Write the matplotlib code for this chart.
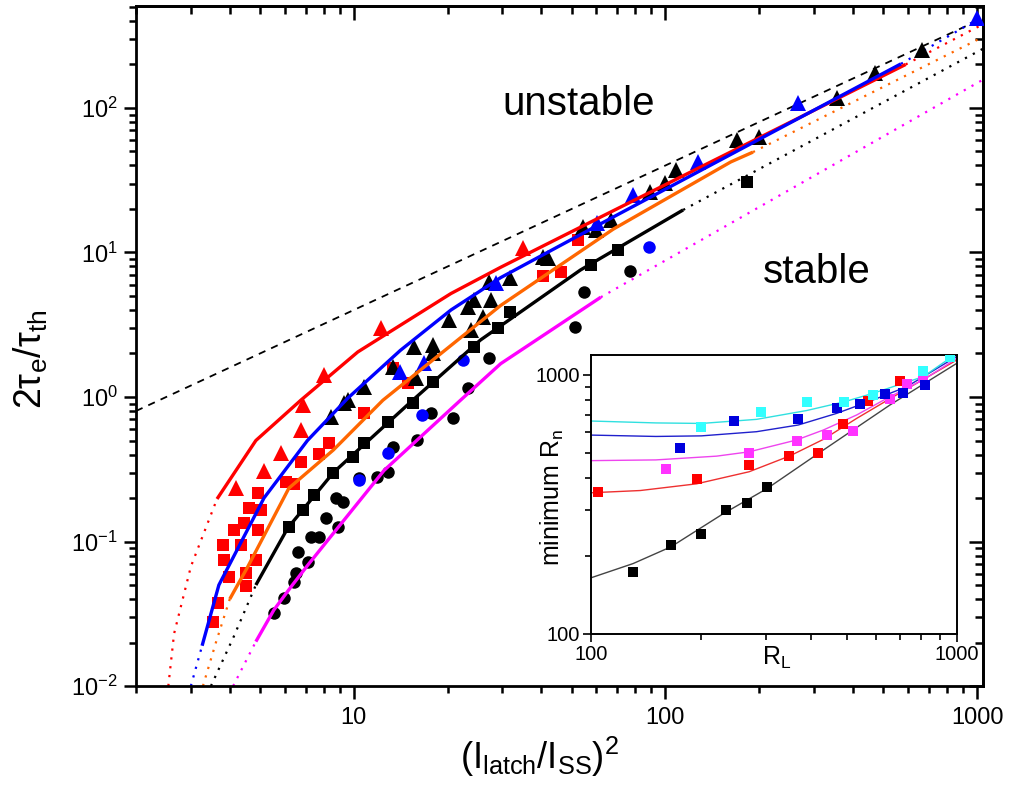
import matplotlib
matplotlib.use('Agg')
import matplotlib.pyplot as plt
import matplotlib.ticker as ticker

plt.rcParams['font.family'] = ['Liberation Sans', 'DejaVu Sans']
plt.rcParams['mathtext.fontset'] = 'custom'
plt.rcParams['mathtext.rm'] = 'Liberation Sans'
plt.rcParams['mathtext.it'] = 'Liberation Sans:italic'
plt.rcParams['mathtext.bf'] = 'Liberation Sans:bold'

# ---- main panel data ----
red_tri_x = [4.19, 5.15, 5.84, 6.76, 6.86, 8.0, 12.2, 35]
red_tri_y = [0.234, 0.31, 0.41, 0.59, 0.88, 1.42, 3.0, 10.7]

red_sq_x = [3.53, 3.66, 3.80, 3.83, 3.97, 4.12, 4.34, 4.44, 4.51, 4.51, 4.61, 4.85, 4.92,
            4.92, 5.03, 6.05, 6.42, 6.76, 7.72, 8.31, 10.8, 13.4, 14.9, 40.6, 46.1, 52.6]
red_sq_y = [0.0277, 0.0375, 0.0946, 0.0745, 0.0568, 0.120, 0.0946, 0.134, 0.0605, 0.0492,
            0.171, 0.0745, 0.120, 0.217, 0.165, 0.258, 0.250, 0.355, 0.404, 0.481, 0.774,
            1.59, 1.25, 6.88, 7.33, 12.2]

black_tri_x = [8.44, 9.29, 9.57, 10.8, 13.4, 15.6, 15.8, 18.0, 18.0, 20.2, 23.2, 23.7, 24.3,
               25.9, 27.1, 27.5, 31.8, 40.6, 41.9, 54.2, 59.7, 66.7, 89.5, 100, 108, 170,
               199, 356, 471, 666]
black_tri_y = [0.728, 0.908, 0.953, 1.17, 1.61, 2.22, 1.35, 2.29, 2.02, 3.41, 4.20, 2.91, 4.69,
               3.58, 6.25, 4.69, 6.66, 9.31, 9.16, 15.0, 14.3, 16.8, 26.2, 30.3, 37.2, 60.1,
               63.0, 117, 175, 252]

blue_tri_x = [14.1, 16.8, 28.5, 60.5, 78.9, 127, 267, 1000]
blue_tri_y = [1.49, 1.72, 6.15, 16.0, 25.0, 42.3, 108, 420]

blue_circ_x = [10.4, 12.9, 16.6, 22.4, 88.3]
blue_circ_y = [0.267, 0.41, 0.75, 1.80, 10.9]

black_circ_x = [5.54, 5.97, 6.42, 6.52, 6.62, 7.12, 7.28, 7.72, 8.13, 8.89, 8.76, 9.22, 10.4,
                11.9, 12.9, 13.4, 16.0, 17.7, 20.8, 23.2, 27.1, 51.1, 54.6, 76.7]
black_circ_y = [0.032, 0.0406, 0.0525, 0.0605, 0.0846, 0.0721, 0.107, 0.107, 0.146, 0.126,
                0.200, 0.187, 0.275, 0.279, 0.303, 0.451, 0.504, 0.774, 0.716, 1.15, 1.86,
                3.05, 5.33, 7.45]

black_sq_x = [6.19, 6.86, 7.44, 8.6, 9.93, 10.8, 12.9, 15.5, 18.0, 24.3, 29.1, 31.8, 57.5, 70.6, 183]
black_sq_y = [0.126, 0.165, 0.210, 0.298, 0.385, 0.481, 0.671, 0.908, 1.27, 2.22, 3.0, 3.87,
              8.19, 10.4, 30.8]

# fitted curves: solid part, dotted low end, dotted high end
red_fit_x = [3.64, 4.85, 6.76, 10.3, 20.5, 29.6, 62, 590]
red_fit_y = [0.197, 0.50, 0.95, 2.05, 5.2, 7.9, 17.6, 200]
red_lo_x, red_lo_y = [2.54, 2.65, 3.0, 3.64], [0.01, 0.023, 0.067, 0.197]
red_hi_x, red_hi_y = [590, 1045], [200, 380]

blue_fit_x = [3.26, 3.69, 5.15, 7.1, 9.56, 14.1, 20.5, 29.6, 68, 570]
blue_fit_y = [0.019, 0.05, 0.20, 0.50, 0.98, 2.1, 4.0, 6.7, 17.6, 202]
blue_lo_x, blue_lo_y = [3.0, 3.26], [0.01, 0.019]
blue_hi_x, blue_hi_y = [570, 1045], [202, 432]

orange_fit_x = [4.0, 4.57, 6.19, 8.6, 12.4, 29.6, 68, 162, 191]
orange_fit_y = [0.04, 0.067, 0.234, 0.43, 0.95, 4.3, 14.5, 42.3, 49.5]
orange_lo_x, orange_lo_y = [3.28, 3.61, 4.0], [0.01, 0.02, 0.04]
orange_hi_x, orange_hi_y = [191, 1045], [49.5, 310]

black_fit_x = [4.85, 6.14, 8.6, 15.2, 25.5, 53.4, 114]
black_fit_y = [0.05, 0.124, 0.30, 0.92, 2.48, 7.57, 19.7]
black_lo_x, black_lo_y = [3.48, 4.12, 4.85], [0.01, 0.022, 0.05]
black_hi_x, black_hi_y = [114, 1045], [19.7, 257]

mag_fit_x = [4.85, 5.54, 6.28, 7.12, 8.25, 12.5, 22.0, 29.6, 62]
mag_fit_y = [0.0203, 0.0336, 0.0484, 0.0687, 0.102, 0.31, 0.95, 1.7, 4.9]
mag_lo_x, mag_lo_y = [4.1, 4.85], [0.01, 0.0203]
mag_hi_x, mag_hi_y = [62, 1045], [4.9, 157]

bound_x = [2, 1045]
bound_y = [0.8, 418]

# ---- inset data ----
ins_black_x = [130, 165, 199, 233, 266, 303]
ins_black_y = [174, 221, 243, 301, 320, 371]
ins_red_x = [104, 194, 270, 348, 416, 489, 572, 698]
ins_red_y = [354, 397, 449, 488, 498, 647, 796, 950]
ins_mag_x = [160, 270, 364, 440, 518, 656, 729, 809]
ins_mag_y = [432, 498, 558, 587, 610, 806, 923, 971]
ins_blue_x = [175, 245, 368, 469, 543, 635, 713, 818]
ins_blue_y = [521, 666, 674, 744, 773, 845, 850, 915]
ins_cyan_x = [199, 291, 389, 492, 590, 809, 957]
ins_cyan_y = [632, 722, 784, 788, 837, 1039, 1177]

fit_black_x = [100, 130, 165, 230, 303, 431, 656, 1000]
fit_black_y = [165, 187, 217, 292, 365, 513, 766, 1110]
fit_red_x = [100, 136, 194, 270, 349, 431, 532, 656, 1000]
fit_red_y = [351, 358, 380, 423, 487, 564, 680, 810, 1143]
fit_mag_x = [100, 150, 220, 270, 364, 431, 532, 656, 809, 1000]
fit_mag_y = [467, 470, 486, 505, 561, 613, 701, 825, 957, 1160]
fit_blue_x = [100, 150, 200, 283, 368, 469, 590, 729, 1000]
fit_blue_y = [586, 579, 582, 604, 641, 711, 801, 901, 1180]
fit_cyan_x = [100, 150, 200, 283, 388, 492, 590, 809, 1000]
fit_cyan_y = [664, 653, 650, 674, 729, 788, 850, 985, 1213]

RED, BLUE, ORANGE, MAG = '#ff0000', '#0000ff', '#ff6600', '#ff00ff'
dot = (0, (1, 3))

fig = plt.figure(figsize=(10.11, 7.86), dpi=100)
ax = fig.add_axes([0.1345, 0.1272, 0.8378, 0.8652])
ax.set_xscale('log')
ax.set_yscale('log')

ax.plot(bound_x, bound_y, color='k', lw=1.3, dashes=(4, 3.5), zorder=2)

curves = [
    (red_fit_x, red_fit_y, red_lo_x, red_lo_y, red_hi_x, red_hi_y, RED),
    (blue_fit_x, blue_fit_y, blue_lo_x, blue_lo_y, blue_hi_x, blue_hi_y, BLUE),
    (orange_fit_x, orange_fit_y, orange_lo_x, orange_lo_y, orange_hi_x, orange_hi_y, ORANGE),
    (black_fit_x, black_fit_y, black_lo_x, black_lo_y, black_hi_x, black_hi_y, 'k'),
    (mag_fit_x, mag_fit_y, mag_lo_x, mag_lo_y, mag_hi_x, mag_hi_y, MAG),
]
for fx, fy, lx, ly, hx, hy, c in curves:
    ax.plot(lx, ly, color=c, lw=1.6, linestyle=dot, zorder=2)
    ax.plot(hx, hy, color=c, lw=1.6, linestyle=dot, zorder=2)

mk = dict(linestyle='none', markeredgewidth=0, zorder=3)
ax.plot(red_sq_x, red_sq_y, 's', color=RED, ms=8.5, **mk)
ax.plot(black_sq_x, black_sq_y, 's', color='k', ms=8.5, **mk)
ax.plot(black_circ_x, black_circ_y, 'o', color='k', ms=9, **mk)
ax.plot(blue_circ_x, blue_circ_y, 'o', color=BLUE, ms=9, **mk)
ax.plot(black_tri_x, black_tri_y, '^', color='k', ms=11, **mk)
ax.plot(red_tri_x, red_tri_y, '^', color=RED, ms=11, **mk)
ax.plot(blue_tri_x, blue_tri_y, '^', color=BLUE, ms=11, **mk)

for fx, fy, lx, ly, hx, hy, c in curves:
    ax.plot(fx, fy, color=c, lw=2.4, solid_capstyle='butt', zorder=4)

ax.set_xlim(2, 1045)
ax.set_ylim(0.01, 508)

ax.text(30, 89, 'unstable', fontsize=29, ha='left', va='baseline')
ax.text(206, 6.15, 'stable', fontsize=29, ha='left', va='baseline')

for s in ax.spines.values():
    s.set_linewidth(2.0)
ax.tick_params(which='both', direction='out', width=1.8, labelsize=17,
               top=False, right=False)
ax.tick_params(which='major', length=9)
ax.tick_params(which='minor', length=5)
ax.tick_params(axis='x', pad=6)
ax.tick_params(axis='y', pad=4)
ax.xaxis.set_major_formatter(ticker.LogFormatter())
ax.xaxis.set_minor_formatter(ticker.NullFormatter())

secx = ax.secondary_xaxis('top')
secx.tick_params(which='both', direction='in', width=1.8, labeltop=False)
secx.tick_params(which='major', length=10)
secx.tick_params(which='minor', length=6)
secx.spines['top'].set_linewidth(2.0)
secy = ax.secondary_yaxis('right')
secy.tick_params(which='both', direction='in', width=1.8, labelright=False)
secy.tick_params(which='major', length=10)
secy.tick_params(which='minor', length=6)
secy.spines['right'].set_linewidth(2.0)

ax.set_xlabel('(I$_{\\mathrm{latch}}$/I$_{\\mathrm{SS}}$)$^{\\mathrm{2}}$', fontsize=26)
ax.xaxis.set_label_coords(0.477, -0.072)
ax.set_ylabel('2\u03c4$_{\\mathrm{e}}$/\u03c4$_{\\mathrm{th}}$', fontsize=27)
ax.yaxis.set_label_coords(-0.101, 0.48)

# ---- inset ----
ins = fig.add_axes([0.585, 0.1934, 0.3615, 0.3549])
ins.set_xscale('log')
ins.set_yscale('log')
ins_sets = [
    (fit_black_x, fit_black_y, ins_black_x, ins_black_y, '#000000', '#444444'),
    (fit_red_x, fit_red_y, ins_red_x, ins_red_y, '#ff0000', '#ee3030'),
    (fit_mag_x, fit_mag_y, ins_mag_x, ins_mag_y, '#ff33ff', '#ee44ee'),
    (fit_blue_x, fit_blue_y, ins_blue_x, ins_blue_y, '#0000dd', '#2020cc'),
    (fit_cyan_x, fit_cyan_y, ins_cyan_x, ins_cyan_y, '#33ffff', '#30e0e0'),
]
for fx, fy, px, py, cm, cl in ins_sets:
    ins.plot(fx, fy, color=cl, lw=1.0, zorder=2)
for fx, fy, px, py, cm, cl in ins_sets:
    ins.plot(px, py, 's', color=cm, ms=6.8, markeredgewidth=0, linestyle='none', zorder=3)
ins.set_xlim(100, 1000)
ins.set_ylim(100, 1194)
for s in ins.spines.values():
    s.set_linewidth(1.4)
ins.tick_params(which='both', direction='out', width=1.2, labelsize=14.5, pad=2)
ins.tick_params(which='major', length=6)
ins.tick_params(which='minor', length=4)
ins.xaxis.set_major_formatter(ticker.LogFormatter())
ins.yaxis.set_major_formatter(ticker.LogFormatter())
ins.xaxis.set_minor_formatter(ticker.NullFormatter())
ins.yaxis.set_minor_formatter(ticker.NullFormatter())
ins.set_xlabel('R$_{\\mathrm{L}}$', fontsize=18)
ins.xaxis.set_label_coords(0.5075, -0.04)
ins.set_ylabel('minimum R$_{\\mathrm{n}}$', fontsize=18)
ins.yaxis.set_label_coords(-0.07, 0.49)

fig.savefig('out.png', dpi=100)
